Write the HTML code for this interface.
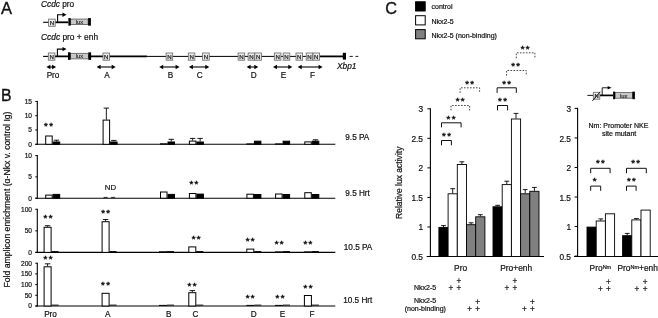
<!DOCTYPE html><html><head><meta charset="utf-8"><title>Figure</title>
<style>html,body{margin:0;padding:0;background:#fff;}svg{display:block;}text{font-family:"Liberation Sans",Arial,sans-serif;fill:#111;stroke:#111;stroke-width:0.2px;}</style></head><body>
<svg width="658" height="318" viewBox="0 0 658 318">
<rect width="658" height="318" fill="#fff"/>
<text x="1" y="13.9" font-size="16.5" text-anchor="start" style="stroke-width:0.35px">A</text>
<text x="41" y="6.6" font-size="8.3"><tspan font-style="italic">Ccdc</tspan> pro</text>
<line x1="43.2" y1="22.3" x2="49" y2="22.3" stroke="#000" stroke-width="1.1" />
<line x1="55" y1="22.3" x2="68.4" y2="22.3" stroke="#000" stroke-width="1.8" />
<rect x="48.60" y="19.10" width="6.60" height="7.20" fill="#ececec" stroke="#666" stroke-width="0.8"/>
<text x="51.90" y="24.90" font-size="6.1" text-anchor="middle" style="fill:#222;stroke:#222;stroke-width:0.25px">N</text>
<path d="M57.6,22.3 V14.7 H63.5" fill="none" stroke="#000" stroke-width="1.1"/>
<path d="M66.5,14.7 l-4.0,-2.2 v4.4 z" fill="#000"/>
<rect x="70.70" y="19.05" width="17.40" height="5.60" fill="#c8c8c8" stroke="#444" stroke-width="0.7"/>
<rect x="68.4" y="18.05" width="2.299999999999997" height="7.6" fill="#000"/>
<rect x="88.1" y="18.05" width="2.8000000000000114" height="7.6" fill="#000"/>
<text x="79.4" y="23.950000000000003" font-size="5.8" text-anchor="middle" style="fill:#333;stroke:#333;stroke-width:0.2px">lux</text>
<text x="41" y="40.1" font-size="8.4"><tspan font-style="italic">Ccdc</tspan> pro + enh</text>
<line x1="43.1" y1="56.4" x2="48.5" y2="56.4" stroke="#000" stroke-width="1.1" />
<line x1="55" y1="56.4" x2="146.9" y2="56.4" stroke="#000" stroke-width="1.8" />
<line x1="146.9" y1="56.4" x2="320" y2="56.4" stroke="#000" stroke-width="1" />
<line x1="319.4" y1="56.4" x2="343" y2="56.4" stroke="#000" stroke-width="1.8" />
<path d="M57.4,56.4 V49.1 H63.5" fill="none" stroke="#000" stroke-width="1.1"/>
<path d="M66.5,49.1 l-4.0,-2.2 v4.4 z" fill="#000"/>
<rect x="70.50" y="53.30" width="17.90" height="5.60" fill="#c8c8c8" stroke="#444" stroke-width="0.7"/>
<rect x="68" y="52.300000000000004" width="2.5" height="7.6" fill="#000"/>
<rect x="88.4" y="52.300000000000004" width="2.6999999999999886" height="7.6" fill="#000"/>
<text x="79.45" y="58.2" font-size="5.8" text-anchor="middle" style="fill:#333;stroke:#333;stroke-width:0.2px">lux</text>
<rect x="48.30" y="53.00" width="6.60" height="7.20" fill="#ececec" stroke="#666" stroke-width="0.8"/>
<text x="51.60" y="58.80" font-size="6.1" text-anchor="middle" style="fill:#222;stroke:#222;stroke-width:0.25px">N</text>
<rect x="103.00" y="53.00" width="6.60" height="7.20" fill="#ececec" stroke="#666" stroke-width="0.8"/>
<text x="106.30" y="58.80" font-size="6.1" text-anchor="middle" style="fill:#222;stroke:#222;stroke-width:0.25px">N</text>
<rect x="166.10" y="53.00" width="6.60" height="7.20" fill="#ececec" stroke="#666" stroke-width="0.8"/>
<text x="169.40" y="58.80" font-size="6.1" text-anchor="middle" style="fill:#222;stroke:#222;stroke-width:0.25px">N</text>
<rect x="188.30" y="53.00" width="6.60" height="7.20" fill="#ececec" stroke="#666" stroke-width="0.8"/>
<text x="191.60" y="58.80" font-size="6.1" text-anchor="middle" style="fill:#222;stroke:#222;stroke-width:0.25px">N</text>
<rect x="202.60" y="53.00" width="6.60" height="7.20" fill="#ececec" stroke="#666" stroke-width="0.8"/>
<text x="205.90" y="58.80" font-size="6.1" text-anchor="middle" style="fill:#222;stroke:#222;stroke-width:0.25px">N</text>
<rect x="238.10" y="53.00" width="6.60" height="7.20" fill="#ececec" stroke="#666" stroke-width="0.8"/>
<text x="241.40" y="58.80" font-size="6.1" text-anchor="middle" style="fill:#222;stroke:#222;stroke-width:0.25px">N</text>
<rect x="248.10" y="53.00" width="6.60" height="7.20" fill="#ececec" stroke="#666" stroke-width="0.8"/>
<text x="251.40" y="58.80" font-size="6.1" text-anchor="middle" style="fill:#222;stroke:#222;stroke-width:0.25px">N</text>
<rect x="254.80" y="53.00" width="6.60" height="7.20" fill="#ececec" stroke="#666" stroke-width="0.8"/>
<text x="258.10" y="58.80" font-size="6.1" text-anchor="middle" style="fill:#222;stroke:#222;stroke-width:0.25px">N</text>
<rect x="274.30" y="53.00" width="6.60" height="7.20" fill="#ececec" stroke="#666" stroke-width="0.8"/>
<text x="277.60" y="58.80" font-size="6.1" text-anchor="middle" style="fill:#222;stroke:#222;stroke-width:0.25px">N</text>
<rect x="283.20" y="53.00" width="6.60" height="7.20" fill="#ececec" stroke="#666" stroke-width="0.8"/>
<text x="286.50" y="58.80" font-size="6.1" text-anchor="middle" style="fill:#222;stroke:#222;stroke-width:0.25px">N</text>
<rect x="296.00" y="53.00" width="6.60" height="7.20" fill="#ececec" stroke="#666" stroke-width="0.8"/>
<text x="299.30" y="58.80" font-size="6.1" text-anchor="middle" style="fill:#222;stroke:#222;stroke-width:0.25px">N</text>
<rect x="306.20" y="53.00" width="6.60" height="7.20" fill="#ececec" stroke="#666" stroke-width="0.8"/>
<text x="309.50" y="58.80" font-size="6.1" text-anchor="middle" style="fill:#222;stroke:#222;stroke-width:0.25px">N</text>
<rect x="313.00" y="53.00" width="6.60" height="7.20" fill="#ececec" stroke="#666" stroke-width="0.8"/>
<text x="316.30" y="58.80" font-size="6.1" text-anchor="middle" style="fill:#222;stroke:#222;stroke-width:0.25px">N</text>
<rect x="342.8" y="52.8" width="3.2" height="6.8" fill="#000"/>
<line x1="349.6" y1="56.4" x2="352.8" y2="56.4" stroke="#000" stroke-width="0.9" />
<line x1="355.5" y1="56.4" x2="358.3" y2="56.4" stroke="#000" stroke-width="0.9" />
<line x1="48.4" y1="67" x2="54.1" y2="67" stroke="#000" stroke-width="1.1" />
<path d="M46.4,67 l4,-2.3 v4.6 z M56.1,67 l-4,-2.3 v4.6 z" fill="#000"/>
<line x1="98.6" y1="67" x2="113.7" y2="67" stroke="#000" stroke-width="1.1" />
<path d="M96.6,67 l4,-2.3 v4.6 z M115.7,67 l-4,-2.3 v4.6 z" fill="#000"/>
<line x1="161.2" y1="67" x2="177.6" y2="67" stroke="#000" stroke-width="1.1" />
<path d="M159.2,67 l4,-2.3 v4.6 z M179.6,67 l-4,-2.3 v4.6 z" fill="#000"/>
<line x1="190.9" y1="67" x2="207.3" y2="67" stroke="#000" stroke-width="1.1" />
<path d="M188.9,67 l4,-2.3 v4.6 z M209.3,67 l-4,-2.3 v4.6 z" fill="#000"/>
<line x1="248.6" y1="67" x2="256.3" y2="67" stroke="#000" stroke-width="1.1" />
<path d="M246.6,67 l4,-2.3 v4.6 z M258.3,67 l-4,-2.3 v4.6 z" fill="#000"/>
<line x1="275" y1="67" x2="290.3" y2="67" stroke="#000" stroke-width="1.1" />
<path d="M273,67 l4,-2.3 v4.6 z M292.3,67 l-4,-2.3 v4.6 z" fill="#000"/>
<line x1="299.7" y1="67" x2="320.6" y2="67" stroke="#000" stroke-width="1.1" />
<path d="M297.7,67 l4,-2.3 v4.6 z M322.6,67 l-4,-2.3 v4.6 z" fill="#000"/>
<text x="53" y="77.8" font-size="8.2" text-anchor="middle" >Pro</text>
<text x="107.1" y="77.8" font-size="8.2" text-anchor="middle" >A</text>
<text x="170.6" y="77.8" font-size="8.2" text-anchor="middle" >B</text>
<text x="199.7" y="77.8" font-size="8.2" text-anchor="middle" >C</text>
<text x="253.8" y="77.8" font-size="8.2" text-anchor="middle" >D</text>
<text x="283.6" y="77.8" font-size="8.2" text-anchor="middle" >E</text>
<text x="312.6" y="77.8" font-size="8.2" text-anchor="middle" >F</text>
<text x="337" y="68.9" font-size="8.3" text-anchor="start" font-style="italic">Xbp1</text>
<text x="1" y="100.5" font-size="15.8" text-anchor="start" style="stroke-width:0.35px">B</text>
<text transform="translate(10.2,287.5) rotate(-90)" font-size="8.3" textLength="176" lengthAdjust="spacingAndGlyphs">Fold amplicon enrichment (α-Nkx v. control Ig)</text>
<line x1="37.3" y1="100.9" x2="37.3" y2="144.8" stroke="#000" stroke-width="1.1" />
<line x1="35.4" y1="144.3" x2="335.3" y2="144.3" stroke="#000" stroke-width="1.1" />
<line x1="35.3" y1="144.3" x2="37.3" y2="144.3" stroke="#000" stroke-width="1" />
<text x="32" y="146.70000000000002" font-size="6.6" text-anchor="end" >0</text>
<line x1="35.3" y1="130.0" x2="37.3" y2="130.0" stroke="#000" stroke-width="1" />
<text x="32" y="132.4" font-size="6.6" text-anchor="end" >5</text>
<line x1="35.3" y1="115.7" x2="37.3" y2="115.7" stroke="#000" stroke-width="1" />
<text x="32" y="118.10000000000001" font-size="6.6" text-anchor="end" >10</text>
<line x1="35.3" y1="101.4" x2="37.3" y2="101.4" stroke="#000" stroke-width="1" />
<text x="32" y="103.80000000000001" font-size="6.6" text-anchor="end" >15</text>
<text x="345.3" y="140.3" font-size="8.2" text-anchor="start" >9.5 PA</text>
<rect x="45.70" y="136.00" width="6.50" height="8.30" fill="#fff" stroke="#000" stroke-width="1"/>
<rect x="53.20" y="142.00" width="6.50" height="2.30" fill="#000" stroke="#000" stroke-width="1"/>
<line x1="56.45" y1="141.5" x2="56.45" y2="140.2" stroke="#000" stroke-width="0.9" />
<line x1="53.75" y1="140.2" x2="59.150000000000006" y2="140.2" stroke="#000" stroke-width="0.9" />
<rect x="103.10" y="120.10" width="6.50" height="24.20" fill="#fff" stroke="#000" stroke-width="1"/>
<line x1="106.35" y1="119.6" x2="106.35" y2="108.1" stroke="#000" stroke-width="0.9" />
<line x1="103.64999999999999" y1="108.1" x2="109.05" y2="108.1" stroke="#000" stroke-width="0.9" />
<rect x="110.60" y="142.00" width="6.50" height="2.30" fill="#000" stroke="#000" stroke-width="1"/>
<line x1="113.85" y1="141.5" x2="113.85" y2="140.4" stroke="#000" stroke-width="0.9" />
<line x1="111.14999999999999" y1="140.4" x2="116.55" y2="140.4" stroke="#000" stroke-width="0.9" />
<rect x="160.50" y="143.80" width="6.50" height="0.50" fill="#fff" stroke="#000" stroke-width="1"/>
<rect x="168.00" y="142.00" width="6.50" height="2.30" fill="#000" stroke="#000" stroke-width="1"/>
<line x1="171.25" y1="141.5" x2="171.25" y2="139.3" stroke="#000" stroke-width="0.9" />
<line x1="168.55" y1="139.3" x2="173.95" y2="139.3" stroke="#000" stroke-width="0.9" />
<rect x="189.40" y="141.10" width="6.50" height="3.20" fill="#fff" stroke="#000" stroke-width="1"/>
<line x1="192.65" y1="140.6" x2="192.65" y2="138.4" stroke="#000" stroke-width="0.9" />
<line x1="189.95000000000002" y1="138.4" x2="195.35" y2="138.4" stroke="#000" stroke-width="0.9" />
<rect x="196.90" y="142.00" width="6.50" height="2.30" fill="#000" stroke="#000" stroke-width="1"/>
<line x1="200.15" y1="141.5" x2="200.15" y2="138.4" stroke="#000" stroke-width="0.9" />
<line x1="197.45000000000002" y1="138.4" x2="202.85" y2="138.4" stroke="#000" stroke-width="0.9" />
<rect x="246.90" y="143.90" width="6.50" height="0.40" fill="#fff" stroke="#000" stroke-width="1"/>
<rect x="254.40" y="141.20" width="6.50" height="3.10" fill="#000" stroke="#000" stroke-width="1"/>
<rect x="275.60" y="143.90" width="6.50" height="0.40" fill="#fff" stroke="#000" stroke-width="1"/>
<rect x="283.10" y="141.20" width="6.50" height="3.10" fill="#000" stroke="#000" stroke-width="1"/>
<rect x="304.80" y="141.90" width="6.50" height="2.40" fill="#fff" stroke="#000" stroke-width="1"/>
<rect x="312.30" y="141.20" width="6.50" height="3.10" fill="#000" stroke="#000" stroke-width="1"/>
<line x1="315.55" y1="140.7" x2="315.55" y2="139.8" stroke="#000" stroke-width="0.9" />
<line x1="312.85" y1="139.8" x2="318.25" y2="139.8" stroke="#000" stroke-width="0.9" />
<text x="49.15" y="128.8" font-size="9.6" text-anchor="middle" letter-spacing="1.3" style="stroke-width:0.45px">**</text>
<line x1="37.3" y1="155.1" x2="37.3" y2="198.7" stroke="#000" stroke-width="1.1" />
<line x1="35.4" y1="198.2" x2="335.3" y2="198.2" stroke="#000" stroke-width="1.1" />
<line x1="35.3" y1="198.2" x2="37.3" y2="198.2" stroke="#000" stroke-width="1" />
<text x="32" y="200.6" font-size="6.6" text-anchor="end" >0</text>
<line x1="35.3" y1="176.89999999999998" x2="37.3" y2="176.89999999999998" stroke="#000" stroke-width="1" />
<text x="32" y="179.29999999999998" font-size="6.6" text-anchor="end" >5</text>
<line x1="35.3" y1="155.6" x2="37.3" y2="155.6" stroke="#000" stroke-width="1" />
<text x="32" y="158.0" font-size="6.6" text-anchor="end" >10</text>
<text x="345.3" y="195.6" font-size="8.2" text-anchor="start" >9.5 Hrt</text>
<rect x="45.70" y="195.10" width="6.50" height="3.10" fill="#fff" stroke="#000" stroke-width="1"/>
<rect x="53.20" y="194.40" width="6.50" height="3.80" fill="#000" stroke="#000" stroke-width="1"/>
<line x1="103.6" y1="197.39999999999998" x2="107.6" y2="197.39999999999998" stroke="#000" stroke-width="0.8" />
<line x1="111.1" y1="197.39999999999998" x2="115.1" y2="197.39999999999998" stroke="#000" stroke-width="0.8" />
<rect x="160.50" y="192.00" width="6.50" height="6.20" fill="#fff" stroke="#000" stroke-width="1"/>
<rect x="168.00" y="194.40" width="6.50" height="3.80" fill="#000" stroke="#000" stroke-width="1"/>
<rect x="189.40" y="193.50" width="6.50" height="4.70" fill="#fff" stroke="#000" stroke-width="1"/>
<rect x="196.90" y="194.10" width="6.50" height="4.10" fill="#000" stroke="#000" stroke-width="1"/>
<rect x="246.90" y="194.20" width="6.50" height="4.00" fill="#fff" stroke="#000" stroke-width="1"/>
<rect x="254.40" y="194.50" width="6.50" height="3.70" fill="#000" stroke="#000" stroke-width="1"/>
<rect x="275.60" y="194.00" width="6.50" height="4.20" fill="#fff" stroke="#000" stroke-width="1"/>
<rect x="283.10" y="194.50" width="6.50" height="3.70" fill="#000" stroke="#000" stroke-width="1"/>
<rect x="304.80" y="192.70" width="6.50" height="5.50" fill="#fff" stroke="#000" stroke-width="1"/>
<rect x="312.30" y="194.50" width="6.50" height="3.70" fill="#000" stroke="#000" stroke-width="1"/>
<text x="110.4" y="190" font-size="7.8" text-anchor="middle" >ND</text>
<text x="194.45000000000002" y="187.0" font-size="9.6" text-anchor="middle" letter-spacing="1.3" style="stroke-width:0.45px">**</text>
<line x1="37.3" y1="208.8" x2="37.3" y2="252.9" stroke="#000" stroke-width="1.1" />
<line x1="35.4" y1="252.4" x2="335.3" y2="252.4" stroke="#000" stroke-width="1.1" />
<line x1="35.3" y1="252.4" x2="37.3" y2="252.4" stroke="#000" stroke-width="1" />
<text x="32" y="254.8" font-size="6.6" text-anchor="end" >0</text>
<line x1="35.3" y1="230.85000000000002" x2="37.3" y2="230.85000000000002" stroke="#000" stroke-width="1" />
<text x="32" y="233.25000000000003" font-size="6.6" text-anchor="end" >50</text>
<line x1="35.3" y1="209.3" x2="37.3" y2="209.3" stroke="#000" stroke-width="1" />
<text x="32" y="211.70000000000002" font-size="6.6" text-anchor="end" >100</text>
<text x="343.8" y="249.7" font-size="8.2" text-anchor="start" >10.5 PA</text>
<rect x="44.10" y="227.30" width="7.00" height="25.10" fill="#fff" stroke="#000" stroke-width="1"/>
<line x1="47.6" y1="226.8" x2="47.6" y2="225.7" stroke="#000" stroke-width="0.9" />
<line x1="44.9" y1="225.7" x2="50.300000000000004" y2="225.7" stroke="#000" stroke-width="0.9" />
<line x1="51.6" y1="251.5" x2="58.6" y2="251.5" stroke="#000" stroke-width="0.9" />
<rect x="102.10" y="221.70" width="7.00" height="30.70" fill="#fff" stroke="#000" stroke-width="1"/>
<line x1="105.6" y1="221.2" x2="105.6" y2="219.5" stroke="#000" stroke-width="0.9" />
<line x1="102.89999999999999" y1="219.5" x2="108.3" y2="219.5" stroke="#000" stroke-width="0.9" />
<line x1="109.6" y1="251.5" x2="116.6" y2="251.5" stroke="#000" stroke-width="0.9" />
<line x1="159" y1="251.8" x2="167" y2="251.8" stroke="#000" stroke-width="1.0" />
<line x1="167" y1="251.5" x2="174" y2="251.5" stroke="#000" stroke-width="0.9" />
<rect x="188.80" y="246.90" width="7.00" height="5.50" fill="#fff" stroke="#000" stroke-width="1"/>
<line x1="196.3" y1="251.5" x2="203.3" y2="251.5" stroke="#000" stroke-width="0.9" />
<rect x="246.80" y="249.10" width="7.00" height="3.30" fill="#fff" stroke="#000" stroke-width="1"/>
<line x1="254.3" y1="251.5" x2="261.3" y2="251.5" stroke="#000" stroke-width="0.9" />
<rect x="275.50" y="251.90" width="7.00" height="0.50" fill="#fff" stroke="#000" stroke-width="1"/>
<line x1="283" y1="251.5" x2="290" y2="251.5" stroke="#000" stroke-width="0.9" />
<rect x="304.40" y="251.90" width="7.00" height="0.50" fill="#fff" stroke="#000" stroke-width="1"/>
<line x1="311.9" y1="251.5" x2="318.9" y2="251.5" stroke="#000" stroke-width="0.9" />
<text x="48.65" y="221.0" font-size="9.6" text-anchor="middle" letter-spacing="1.3" style="stroke-width:0.45px">**</text>
<text x="106.35000000000001" y="215.5" font-size="9.6" text-anchor="middle" letter-spacing="1.3" style="stroke-width:0.45px">**</text>
<text x="196.75" y="241.8" font-size="9.6" text-anchor="middle" letter-spacing="1.3" style="stroke-width:0.45px">**</text>
<text x="250.85" y="244.2" font-size="9.6" text-anchor="middle" letter-spacing="1.3" style="stroke-width:0.45px">**</text>
<text x="279.75" y="247.3" font-size="9.6" text-anchor="middle" letter-spacing="1.3" style="stroke-width:0.45px">**</text>
<text x="308.45" y="246.5" font-size="9.6" text-anchor="middle" letter-spacing="1.3" style="stroke-width:0.45px">**</text>
<line x1="37.3" y1="262.7" x2="37.3" y2="306.5" stroke="#000" stroke-width="1.1" />
<line x1="35.4" y1="306" x2="335.3" y2="306" stroke="#000" stroke-width="1.1" />
<line x1="35.3" y1="306.0" x2="37.3" y2="306.0" stroke="#000" stroke-width="1" />
<text x="32" y="308.4" font-size="6.6" text-anchor="end" >0</text>
<line x1="35.3" y1="295.3" x2="37.3" y2="295.3" stroke="#000" stroke-width="1" />
<text x="32" y="297.7" font-size="6.6" text-anchor="end" >50</text>
<line x1="35.3" y1="284.6" x2="37.3" y2="284.6" stroke="#000" stroke-width="1" />
<text x="32" y="287.0" font-size="6.6" text-anchor="end" >100</text>
<line x1="35.3" y1="273.9" x2="37.3" y2="273.9" stroke="#000" stroke-width="1" />
<text x="32" y="276.29999999999995" font-size="6.6" text-anchor="end" >150</text>
<line x1="35.3" y1="263.2" x2="37.3" y2="263.2" stroke="#000" stroke-width="1" />
<text x="32" y="265.59999999999997" font-size="6.6" text-anchor="end" >200</text>
<text x="343.2" y="302.9" font-size="8.2" text-anchor="start" >10.5 Hrt</text>
<rect x="44.10" y="266.80" width="7.00" height="39.20" fill="#fff" stroke="#000" stroke-width="1"/>
<line x1="47.6" y1="266.3" x2="47.6" y2="263.8" stroke="#000" stroke-width="0.9" />
<line x1="44.9" y1="263.8" x2="50.300000000000004" y2="263.8" stroke="#000" stroke-width="0.9" />
<line x1="51.6" y1="305.1" x2="58.6" y2="305.1" stroke="#000" stroke-width="0.9" />
<rect x="102.10" y="293.30" width="7.00" height="12.70" fill="#fff" stroke="#000" stroke-width="1"/>
<line x1="109.6" y1="305.1" x2="116.6" y2="305.1" stroke="#000" stroke-width="0.9" />
<line x1="159" y1="305.4" x2="167" y2="305.4" stroke="#000" stroke-width="1.0" />
<line x1="167" y1="305.1" x2="174" y2="305.1" stroke="#000" stroke-width="0.9" />
<rect x="188.80" y="292.70" width="7.00" height="13.30" fill="#fff" stroke="#000" stroke-width="1"/>
<line x1="192.3" y1="292.2" x2="192.3" y2="290.6" stroke="#000" stroke-width="0.9" />
<line x1="189.60000000000002" y1="290.6" x2="195.0" y2="290.6" stroke="#000" stroke-width="0.9" />
<line x1="196.3" y1="305.1" x2="203.3" y2="305.1" stroke="#000" stroke-width="0.9" />
<line x1="246.3" y1="305.4" x2="254.3" y2="305.4" stroke="#000" stroke-width="1.0" />
<line x1="254.3" y1="305.1" x2="261.3" y2="305.1" stroke="#000" stroke-width="0.9" />
<line x1="275" y1="305.4" x2="283" y2="305.4" stroke="#000" stroke-width="1.0" />
<line x1="283" y1="305.1" x2="290" y2="305.1" stroke="#000" stroke-width="0.9" />
<rect x="304.40" y="295.50" width="7.00" height="10.50" fill="#fff" stroke="#000" stroke-width="1"/>
<line x1="311.9" y1="305.1" x2="318.9" y2="305.1" stroke="#000" stroke-width="0.9" />
<text x="48.65" y="261.9" font-size="9.6" text-anchor="middle" letter-spacing="1.3" style="stroke-width:0.45px">**</text>
<text x="106.15" y="288.4" font-size="9.6" text-anchor="middle" letter-spacing="1.3" style="stroke-width:0.45px">**</text>
<text x="192.65" y="288.5" font-size="9.6" text-anchor="middle" letter-spacing="1.3" style="stroke-width:0.45px">**</text>
<text x="250.85" y="301.4" font-size="9.6" text-anchor="middle" letter-spacing="1.3" style="stroke-width:0.45px">**</text>
<text x="280.65" y="300.9" font-size="9.6" text-anchor="middle" letter-spacing="1.3" style="stroke-width:0.45px">**</text>
<text x="308.65" y="291.1" font-size="9.6" text-anchor="middle" letter-spacing="1.3" style="stroke-width:0.45px">**</text>
<text x="50.5" y="317.1" font-size="8.2" text-anchor="middle" >Pro</text>
<text x="107.8" y="317.1" font-size="8.2" text-anchor="middle" >A</text>
<text x="168.7" y="317.1" font-size="8.2" text-anchor="middle" >B</text>
<text x="195.4" y="317.1" font-size="8.2" text-anchor="middle" >C</text>
<text x="253.6" y="317.1" font-size="8.2" text-anchor="middle" >D</text>
<text x="282.6" y="317.1" font-size="8.2" text-anchor="middle" >E</text>
<text x="311.9" y="317.1" font-size="8.2" text-anchor="middle" >F</text>
<text x="385.3" y="14" font-size="16.3" text-anchor="start" style="stroke-width:0.35px">C</text>
<rect x="415.60" y="1.80" width="9.60" height="9.20" fill="#000" stroke="#000" stroke-width="1"/>
<rect x="415.60" y="15.70" width="9.60" height="9.20" fill="#fff" stroke="#000" stroke-width="1"/>
<rect x="415.60" y="29.60" width="9.60" height="9.20" fill="#808080" stroke="#000" stroke-width="1"/>
<text x="431.5" y="9.2" font-size="7" text-anchor="start" >control</text>
<text x="431.5" y="23.7" font-size="7" text-anchor="start" >Nkx2-5</text>
<text x="431.5" y="37.5" font-size="7" text-anchor="start" >Nkx2-5 (non-binding)</text>
<line x1="430.4" y1="108.3" x2="430.4" y2="257" stroke="#000" stroke-width="1.1" />
<line x1="426.7" y1="256.5" x2="544" y2="256.5" stroke="#000" stroke-width="1.1" />
<line x1="427.4" y1="256.5" x2="430.4" y2="256.5" stroke="#000" stroke-width="1" />
<text x="423" y="259.9" font-size="8.3" text-anchor="end" >0.5</text>
<line x1="427.4" y1="226.96" x2="430.4" y2="226.96" stroke="#000" stroke-width="1" />
<text x="423" y="230.36" font-size="8.3" text-anchor="end" >1</text>
<line x1="427.4" y1="197.42000000000002" x2="430.4" y2="197.42000000000002" stroke="#000" stroke-width="1" />
<text x="423" y="200.82000000000002" font-size="8.3" text-anchor="end" >1.5</text>
<line x1="427.4" y1="167.88" x2="430.4" y2="167.88" stroke="#000" stroke-width="1" />
<text x="423" y="171.28" font-size="8.3" text-anchor="end" >2</text>
<line x1="427.4" y1="138.34" x2="430.4" y2="138.34" stroke="#000" stroke-width="1" />
<text x="423" y="141.74" font-size="8.3" text-anchor="end" >2.5</text>
<line x1="427.4" y1="108.80000000000001" x2="430.4" y2="108.80000000000001" stroke="#000" stroke-width="1" />
<text x="423" y="112.20000000000002" font-size="8.3" text-anchor="end" >3</text>
<text transform="translate(402.2,219) rotate(-90)" font-size="8.5" textLength="72.4" lengthAdjust="spacingAndGlyphs">Relative lux activity</text>
<rect x="438.90" y="227.40" width="9.20" height="29.10" fill="#000" stroke="#000" stroke-width="0.9"/>
<line x1="443.5" y1="227" x2="443.5" y2="225.6" stroke="#000" stroke-width="0.9" />
<line x1="441.1" y1="225.6" x2="445.9" y2="225.6" stroke="#000" stroke-width="0.9" />
<rect x="448.10" y="193.80" width="9.20" height="62.70" fill="#fff" stroke="#000" stroke-width="0.9"/>
<line x1="452.7" y1="193.4" x2="452.7" y2="188.7" stroke="#000" stroke-width="0.9" />
<line x1="450.3" y1="188.7" x2="455.09999999999997" y2="188.7" stroke="#000" stroke-width="0.9" />
<rect x="457.30" y="164.50" width="9.20" height="92.00" fill="#fff" stroke="#000" stroke-width="0.9"/>
<line x1="461.9" y1="164.1" x2="461.9" y2="161.8" stroke="#000" stroke-width="0.9" />
<line x1="459.5" y1="161.8" x2="464.29999999999995" y2="161.8" stroke="#000" stroke-width="0.9" />
<rect x="466.50" y="224.70" width="9.20" height="31.80" fill="#808080" stroke="#000" stroke-width="0.9"/>
<line x1="471.1" y1="224.3" x2="471.1" y2="222.8" stroke="#000" stroke-width="0.9" />
<line x1="468.70000000000005" y1="222.8" x2="473.5" y2="222.8" stroke="#000" stroke-width="0.9" />
<rect x="475.70" y="216.80" width="9.20" height="39.70" fill="#808080" stroke="#000" stroke-width="0.9"/>
<line x1="480.3" y1="216.4" x2="480.3" y2="214.7" stroke="#000" stroke-width="0.9" />
<line x1="477.90000000000003" y1="214.7" x2="482.7" y2="214.7" stroke="#000" stroke-width="0.9" />
<rect x="493.00" y="206.80" width="9.20" height="49.70" fill="#000" stroke="#000" stroke-width="0.9"/>
<line x1="497.6" y1="206.4" x2="497.6" y2="205.3" stroke="#000" stroke-width="0.9" />
<line x1="495.20000000000005" y1="205.3" x2="500.0" y2="205.3" stroke="#000" stroke-width="0.9" />
<rect x="502.20" y="184.60" width="9.20" height="71.90" fill="#fff" stroke="#000" stroke-width="0.9"/>
<line x1="506.8" y1="184.2" x2="506.8" y2="181.2" stroke="#000" stroke-width="0.9" />
<line x1="504.40000000000003" y1="181.2" x2="509.2" y2="181.2" stroke="#000" stroke-width="0.9" />
<rect x="511.40" y="119.00" width="9.20" height="137.50" fill="#fff" stroke="#000" stroke-width="0.9"/>
<line x1="516.0" y1="118.6" x2="516.0" y2="113.4" stroke="#000" stroke-width="0.9" />
<line x1="513.6" y1="113.4" x2="518.4" y2="113.4" stroke="#000" stroke-width="0.9" />
<rect x="520.60" y="193.80" width="9.20" height="62.70" fill="#808080" stroke="#000" stroke-width="0.9"/>
<line x1="525.2" y1="193.4" x2="525.2" y2="189.6" stroke="#000" stroke-width="0.9" />
<line x1="522.8000000000001" y1="189.6" x2="527.6" y2="189.6" stroke="#000" stroke-width="0.9" />
<rect x="529.80" y="191.30" width="9.20" height="65.20" fill="#808080" stroke="#000" stroke-width="0.9"/>
<line x1="534.4" y1="190.9" x2="534.4" y2="187.4" stroke="#000" stroke-width="0.9" />
<line x1="532.0" y1="187.4" x2="536.8" y2="187.4" stroke="#000" stroke-width="0.9" />
<path d="M441.5,145.3 V140.5 H451.4 V145.3" fill="none" stroke="#111" stroke-width="1.0" />
<text x="447.15" y="139.2" font-size="9.6" text-anchor="middle" letter-spacing="1.3" style="stroke-width:0.45px">**</text>
<path d="M441.5,127.4 V122.8 H461.1 V127.4" fill="none" stroke="#111" stroke-width="1.0" />
<text x="451.65" y="121.9" font-size="9.6" text-anchor="middle" letter-spacing="1.3" style="stroke-width:0.45px">**</text>
<path d="M451,110.4 V105.5 H469.6 V110.4" fill="none" stroke="#333" stroke-width="0.9" stroke-dasharray="1.6,1.4"/>
<text x="460.75" y="104.2" font-size="9.6" text-anchor="middle" letter-spacing="1.3" style="stroke-width:0.45px">**</text>
<path d="M460.1,92.9 V87.8 H479.6 V92.9" fill="none" stroke="#333" stroke-width="0.9" stroke-dasharray="1.6,1.4"/>
<text x="470.25" y="87.1" font-size="9.6" text-anchor="middle" letter-spacing="1.3" style="stroke-width:0.45px">**</text>
<path d="M497.5,110.4 V105.5 H507.6 V110.4" fill="none" stroke="#111" stroke-width="1.0" />
<text x="503.15" y="104.2" font-size="9.6" text-anchor="middle" letter-spacing="1.3" style="stroke-width:0.45px">**</text>
<path d="M497.1,92.9 V87.8 H516.3 V92.9" fill="none" stroke="#111" stroke-width="1.0" />
<text x="507.25" y="87.1" font-size="9.6" text-anchor="middle" letter-spacing="1.3" style="stroke-width:0.45px">**</text>
<path d="M506.6,75.6 V70.5 H526.3 V75.6" fill="none" stroke="#333" stroke-width="0.9" stroke-dasharray="1.6,1.4"/>
<text x="516.35" y="69.2" font-size="9.6" text-anchor="middle" letter-spacing="1.3" style="stroke-width:0.45px">**</text>
<path d="M516.3,58.2 V52.8 H534.9 V58.2" fill="none" stroke="#333" stroke-width="0.9" stroke-dasharray="1.6,1.4"/>
<text x="525.85" y="51.9" font-size="9.6" text-anchor="middle" letter-spacing="1.3" style="stroke-width:0.45px">**</text>
<text x="460.6" y="270.7" font-size="8.4" text-anchor="middle" >Pro</text>
<text x="516.2" y="270.7" font-size="8.4" text-anchor="middle" >Pro+enh</text>
<text x="414" y="289.6" font-size="7" text-anchor="start" >Nkx2-5</text>
<text x="414" y="303" font-size="7" text-anchor="start" >Nkx2-5</text>
<text x="404.7" y="310.8" font-size="7" text-anchor="start" >(non-binding)</text>
<text x="459" y="283.5" font-size="8.2" text-anchor="middle" >+</text>
<text x="451" y="290.9" font-size="8.2" text-anchor="middle" >+</text>
<text x="459" y="290.9" font-size="8.2" text-anchor="middle" >+</text>
<text x="515" y="283.5" font-size="8.2" text-anchor="middle" >+</text>
<text x="506.9" y="290.9" font-size="8.2" text-anchor="middle" >+</text>
<text x="515" y="290.9" font-size="8.2" text-anchor="middle" >+</text>
<text x="477.7" y="304.5" font-size="8.2" text-anchor="middle" >+</text>
<text x="469.6" y="311.79999999999995" font-size="8.2" text-anchor="middle" >+</text>
<text x="477.7" y="311.79999999999995" font-size="8.2" text-anchor="middle" >+</text>
<text x="532.4" y="304.5" font-size="8.2" text-anchor="middle" >+</text>
<text x="524.4" y="311.79999999999995" font-size="8.2" text-anchor="middle" >+</text>
<text x="532.4" y="311.79999999999995" font-size="8.2" text-anchor="middle" >+</text>
<text x="608.4" y="284.79999999999995" font-size="8.2" text-anchor="middle" >+</text>
<text x="600.5" y="291.79999999999995" font-size="8.2" text-anchor="middle" >+</text>
<text x="608.4" y="291.79999999999995" font-size="8.2" text-anchor="middle" >+</text>
<text x="645.2" y="284.79999999999995" font-size="8.2" text-anchor="middle" >+</text>
<text x="636.8" y="291.79999999999995" font-size="8.2" text-anchor="middle" >+</text>
<text x="645.2" y="291.79999999999995" font-size="8.2" text-anchor="middle" >+</text>
<line x1="577.6" y1="107.8" x2="577.6" y2="257" stroke="#000" stroke-width="1.1" />
<line x1="574" y1="256.5" x2="658" y2="256.5" stroke="#000" stroke-width="1.1" />
<line x1="574.6" y1="256.1" x2="577.6" y2="256.1" stroke="#000" stroke-width="1" />
<text x="571" y="259.70000000000005" font-size="8.3" text-anchor="end" >0.5</text>
<line x1="574.6" y1="226.56" x2="577.6" y2="226.56" stroke="#000" stroke-width="1" />
<text x="571" y="230.16" font-size="8.3" text-anchor="end" >1</text>
<line x1="574.6" y1="197.02" x2="577.6" y2="197.02" stroke="#000" stroke-width="1" />
<text x="571" y="200.62" font-size="8.3" text-anchor="end" >1.5</text>
<line x1="574.6" y1="167.48" x2="577.6" y2="167.48" stroke="#000" stroke-width="1" />
<text x="571" y="171.07999999999998" font-size="8.3" text-anchor="end" >2</text>
<line x1="574.6" y1="137.94" x2="577.6" y2="137.94" stroke="#000" stroke-width="1" />
<text x="571" y="141.54" font-size="8.3" text-anchor="end" >2.5</text>
<line x1="574.6" y1="108.4" x2="577.6" y2="108.4" stroke="#000" stroke-width="1" />
<text x="571" y="112.0" font-size="8.3" text-anchor="end" >3</text>
<rect x="587.00" y="227.10" width="9.20" height="29.40" fill="#000" stroke="#000" stroke-width="0.9"/>
<rect x="596.20" y="221.00" width="9.20" height="35.50" fill="#fff" stroke="#000" stroke-width="0.9"/>
<line x1="600.8000000000001" y1="220.6" x2="600.8000000000001" y2="218.9" stroke="#000" stroke-width="0.9" />
<line x1="598.4000000000001" y1="218.9" x2="603.2" y2="218.9" stroke="#000" stroke-width="0.9" />
<rect x="605.40" y="213.80" width="9.20" height="42.70" fill="#fff" stroke="#000" stroke-width="0.9"/>
<rect x="622.60" y="235.70" width="9.20" height="20.80" fill="#000" stroke="#000" stroke-width="0.9"/>
<line x1="627.2" y1="235.3" x2="627.2" y2="233.4" stroke="#000" stroke-width="0.9" />
<line x1="624.8000000000001" y1="233.4" x2="629.6" y2="233.4" stroke="#000" stroke-width="0.9" />
<rect x="631.80" y="219.90" width="9.20" height="36.60" fill="#fff" stroke="#000" stroke-width="0.9"/>
<line x1="636.4000000000001" y1="219.5" x2="636.4000000000001" y2="218.6" stroke="#000" stroke-width="0.9" />
<line x1="634.0000000000001" y1="218.6" x2="638.8000000000001" y2="218.6" stroke="#000" stroke-width="0.9" />
<rect x="641.00" y="210.10" width="9.20" height="46.40" fill="#fff" stroke="#000" stroke-width="0.9"/>
<path d="M590.7,190.8 V186.1 H600.7 V190.8" fill="none" stroke="#111" stroke-width="1.0" />
<text x="595.2" y="184.2" font-size="9.6" text-anchor="middle" letter-spacing="1.3" style="stroke-width:0.45px">*</text>
<path d="M590.7,173.2 V168.3 H610.1 V173.2" fill="none" stroke="#111" stroke-width="1.0" />
<text x="600.9499999999999" y="166.2" font-size="9.6" text-anchor="middle" letter-spacing="1.3" style="stroke-width:0.45px">**</text>
<path d="M626.5,190.8 V186.1 H636.1 V190.8" fill="none" stroke="#111" stroke-width="1.0" />
<text x="632.05" y="184.2" font-size="9.6" text-anchor="middle" letter-spacing="1.3" style="stroke-width:0.45px">**</text>
<path d="M626.5,173.2 V168.3 H646.3 V173.2" fill="none" stroke="#111" stroke-width="1.0" />
<text x="636.35" y="166.2" font-size="9.6" text-anchor="middle" letter-spacing="1.3" style="stroke-width:0.45px">**</text>
<text x="589.6" y="271.2" font-size="8.4">Pro<tspan font-size="5.5" dy="-2.6">Nm</tspan></text>
<text x="617.4" y="271.2" font-size="8.4">Pro<tspan font-size="5.5" dy="-2.6">Nm</tspan><tspan dy="2.6">+enh</tspan></text>
<text x="588.5" y="127.6" font-size="7" text-anchor="start" >Nm: Promoter NKE</text>
<text x="619.2" y="136.3" font-size="7" text-anchor="middle" >site mutant</text>
<line x1="587.4" y1="95.4" x2="593.2" y2="95.4" stroke="#000" stroke-width="0.9" />
<line x1="599.8" y1="95.4" x2="613.1" y2="95.4" stroke="#000" stroke-width="1.7" />
<rect x="593.30" y="92.30" width="6.50" height="6.90" fill="#ececec" stroke="#666" stroke-width="0.8"/>
<text x="596.5" y="98" font-size="5.8" text-anchor="middle" style="fill:#222;stroke:#222;stroke-width:0.25px">N</text>
<line x1="592.3" y1="101" x2="600.2" y2="91.7" stroke="#111" stroke-width="0.9"/>
<path d="M602.2,95.4 V87.8 H608.5" fill="none" stroke="#000" stroke-width="0.9"/>
<path d="M611.5,87.8 l-3.8,-1.8 v3.6 z" fill="#000"/>
<rect x="615.10" y="92.60" width="17.30" height="5.60" fill="#c8c8c8" stroke="#444" stroke-width="0.7"/>
<rect x="613.1" y="91.60000000000001" width="2.0" height="7.6" fill="#000"/>
<rect x="632.4" y="91.60000000000001" width="2.5" height="7.6" fill="#000"/>
<text x="623.75" y="97.5" font-size="5.8" text-anchor="middle" style="fill:#333;stroke:#333;stroke-width:0.2px">lux</text>
</svg></body></html>
